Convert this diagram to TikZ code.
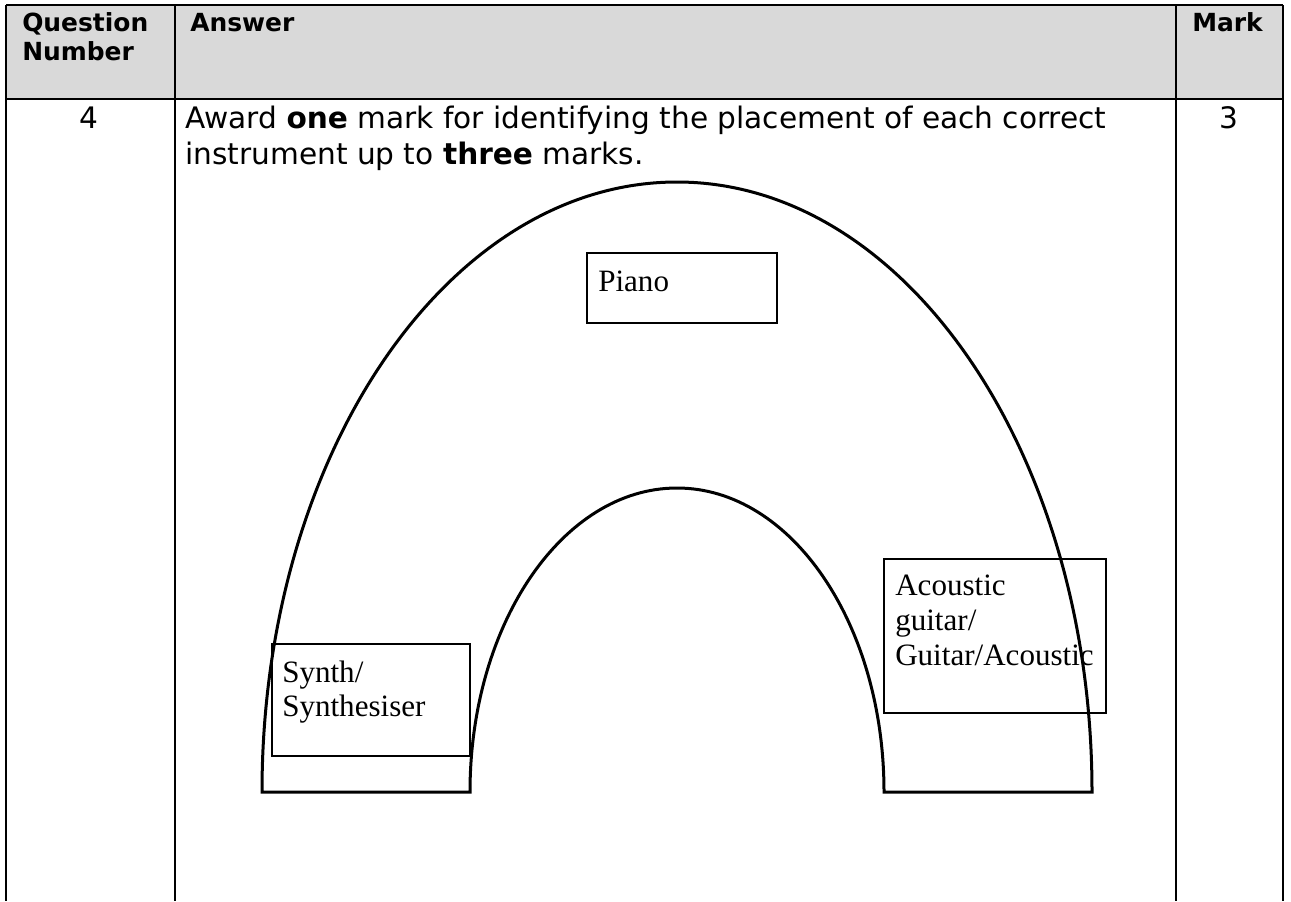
\documentclass[tikz,border=0pt]{standalone}
\usepackage{fontspec}
\newfontfamily\vfont{DejaVu Sans}
\newfontfamily\bxfont{Liberation Serif}
\definecolor{hdrgray}{HTML}{D9D9D9}
\begin{document}
\begin{tikzpicture}[x=0.75pt,y=-0.75pt,
  hdr/.style={font=\vfont\bfseries\fontsize{18.7}{22}\selectfont, inner sep=0, anchor=base west},
  body/.style={font=\vfont\fontsize{22.2}{26}\selectfont, inner sep=0, anchor=base west},
  num/.style={font=\vfont\fontsize{22.2}{26}\selectfont, inner sep=0, anchor=base},
  btext/.style={font=\bxfont\fontsize{23.3}{27}\selectfont, inner sep=0, anchor=base west},
  ibox/.style={draw, line width=1.5pt, inner sep=0, outer sep=0, anchor=north west},
  rule/.style={line width=1.5pt},
  arch/.style={line width=2.25pt, line join=miter}]
\useasboundingbox (0,0) rectangle (1291,901);
% table
\fill[hdrgray] (6,5) rectangle (1283,99);
\draw[rule] (6,5) -- (1283,5);
\draw[rule] (6,99) -- (1283,99);
\draw[rule] (6,5) -- (6,901);
\draw[rule] (175,5) -- (175,901);
\draw[rule] (1176,5) -- (1176,901);
\draw[rule] (1283,5) -- (1283,901);
% header
\node[hdr] (q1) at (22,31) {Question};
\node[hdr] (q2) at (22,60) {Number};
\node[hdr] (ans) at (190,31) {Answer};
\node[hdr] (mark) at (1192,31) {Mark};
% body
\node[num] (qn) at (89,128) {4};
\node[num] (mk) at (1229,128) {3};
\node[body] (l1) at (185,128) {Award \textbf{one} mark for identifying the placement of each correct};
\node[body] (l2) at (185,164) {instrument up to \textbf{three} marks.};
% boxes
\node[ibox, minimum width=142.5pt, minimum height=52.5pt] (piano) at (587,253) {};
\node[btext] (pianot) at (598,291) {Piano};
\node[ibox, minimum width=148.5pt, minimum height=84pt] (synth) at (272,644) {};
\node[btext] (synth1) at (282,682) {Synth/};
\node[btext] (synth2) at (282,716) {Synthesiser};
\node[ibox, minimum width=166.5pt, minimum height=115.5pt] (acou) at (884,559) {};
\node[btext] (acou1) at (895,595) {Acoustic};
\node[btext] (acou2) at (895,630) {guitar/};
\node[btext] (acou3) at (895,665) {Guitar/Acoustic};
% arch
\draw[arch] (262,792) .. controls (262,455.1) and (447.8,182) .. (677,182)
  .. controls (906.2,182) and (1092,455.1) .. (1092,792)
  -- (884,792)
  .. controls (884,624.1) and (791.3,488) .. (677,488)
  .. controls (562.7,488) and (470,624.1) .. (470,792)
  -- cycle;
\end{tikzpicture}
\end{document}
